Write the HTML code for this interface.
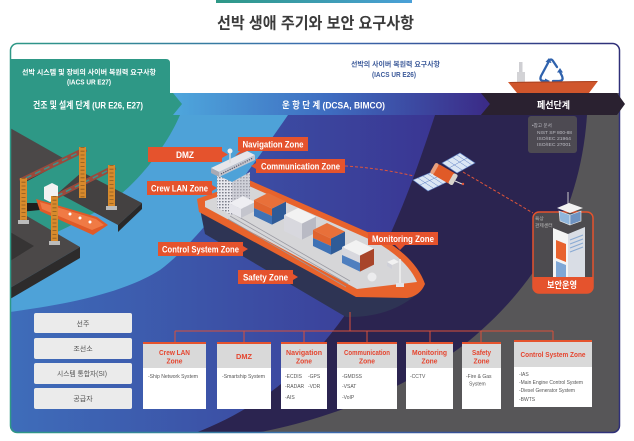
<!DOCTYPE html>
<html><head><meta charset="utf-8"><style>
html,body{margin:0;padding:0;background:#fff;width:634px;height:441px;overflow:hidden}
svg{display:block}
text{font-family:"Liberation Sans","Noto Sans CJK KR",sans-serif}
</style></head><body>
<svg width="634" height="441" viewBox="0 0 634 441" xmlns="http://www.w3.org/2000/svg">
<defs>
 <linearGradient id="topline" x1="216" y1="0" x2="412" y2="0" gradientUnits="userSpaceOnUse"><stop offset="0" stop-color="#2e9886"/><stop offset="1" stop-color="#4aa0d8"/></linearGradient>
 <linearGradient id="border" x1="10" y1="0" x2="620" y2="0" gradientUnits="userSpaceOnUse"><stop offset="0" stop-color="#2e9886"/><stop offset="0.5" stop-color="#3c6db0"/><stop offset="1" stop-color="#2f2f78"/></linearGradient>
 <linearGradient id="mid" x1="10" y1="0" x2="440" y2="0" gradientUnits="userSpaceOnUse"><stop offset="0" stop-color="#3e6dba"/><stop offset="1" stop-color="#3a3592"/></linearGradient>
 <linearGradient id="band" x1="175" y1="0" x2="485" y2="0" gradientUnits="userSpaceOnUse"><stop offset="0" stop-color="#4ea6dc"/><stop offset="0.5" stop-color="#3e6cc0"/><stop offset="1" stop-color="#3b2c88"/></linearGradient>
 <clipPath id="pc"><rect x="10" y="43" width="610" height="390" rx="7"/></clipPath>
 <pattern id="win" width="3" height="3" patternUnits="userSpaceOnUse"><rect width="1.6" height="1.4" fill="#7d7f8c"/></pattern>
</defs>

<!-- title -->
<rect x="216" y="0" width="196" height="3" fill="url(#topline)"/>
<text x="217" y="28.5" font-size="16" font-weight="bold" fill="#3b3b3b" textLength="197" lengthAdjust="spacingAndGlyphs">선박 생애 주기와 보안 요구사항</text>

<g clip-path="url(#pc)">
 <rect x="10" y="43" width="610" height="390" fill="#ffffff"/>
 <rect x="10" y="93" width="610" height="340" fill="#575658"/>
 <path d="M10,93 L590,93 L587,115 C580,220 530,290 470,340 C420,380 340,418 255,433 L10,433 Z" fill="#2b2450"/>
 <path d="M10,93 L440,93 L435,115 C415,175 390,250 345,315 C305,372 255,410 195,433 L10,433 Z" fill="url(#mid)"/>
 <path d="M10,93 L290,93 L288,115 C250,170 200,240 160,270 C120,295 60,305 10,312 Z" fill="#4ea2d8"/>
 <path d="M10,93 L180,93 L180,115 C165,150 130,195 90,215 C60,232 30,245 10,250 Z" fill="#2e9886"/>

 <!-- harbor -->
 <polygon points="10,128 63,158 20,181 20,212 80,247 10,288" fill="#4b4848"/>
 <polygon points="63,158 63,162 20,185 20,181" fill="#2e2c2c"/>
 <polygon points="80,247 80,258 10,299 10,288" fill="#2d2b2b"/>
 <polygon points="10,232 34,246 10,261" fill="#363434"/>
 <polygon points="20,203 38,203 40,210 20,212" fill="#1f1e1e"/>
 <polygon points="82,172 142,203 118,225 58,193" fill="#444141"/>
 <polygon points="142,203 142,209 118,232 118,225" fill="#2a2828"/>
 <!-- crane beams -->
 <line x1="20" y1="181" x2="86" y2="149" stroke="#9a4a3c" stroke-width="5"/>
 <line x1="26" y1="178" x2="80" y2="152" stroke="#3f8f8a" stroke-width="1.6" stroke-dasharray="6,4"/>
 <line x1="51" y1="199" x2="115" y2="167" stroke="#9a4a3c" stroke-width="5"/>
 <line x1="57" y1="196" x2="109" y2="170" stroke="#3f8f8a" stroke-width="1.6" stroke-dasharray="6,4"/>
 <rect x="79" y="147" width="7" height="51" fill="#d88a2c"/>
 <line x1="82.5" y1="147" x2="82.5" y2="198" stroke="#8a5a20" stroke-width="4" stroke-dasharray="0.8,3"/>
 <rect x="108" y="165" width="7" height="43" fill="#d88a2c"/>
 <line x1="111.5" y1="165" x2="111.5" y2="208" stroke="#8a5a20" stroke-width="4" stroke-dasharray="0.8,3"/>
 <rect x="106" y="206" width="11" height="4" fill="#bbb"/>
 <!-- small ship -->
 <polygon points="36,199 97,217 108,225 93,235 40,211" fill="#e05a28"/>
 <polygon points="40,202 96,219 104,225 92,230 42,209" fill="#f07a45"/>
 <polygon points="44,187 52,183 58,186 58,198 50,202 44,199" fill="#f2f2f2"/>
 <circle cx="70" cy="214" r="1.5" fill="#fff"/><circle cx="80" cy="218" r="1.5" fill="#fff"/><circle cx="90" cy="222" r="1.5" fill="#fff"/>
 <rect x="20" y="178" width="7" height="44" fill="#d88a2c"/>
 <line x1="23.5" y1="178" x2="23.5" y2="222" stroke="#8a5a20" stroke-width="4" stroke-dasharray="0.8,3"/>
 <rect x="18" y="220" width="11" height="4" fill="#bbb"/>
 <rect x="51" y="196" width="7" height="47" fill="#d88a2c"/>
 <line x1="54.5" y1="196" x2="54.5" y2="243" stroke="#8a5a20" stroke-width="4" stroke-dasharray="0.8,3"/>
 <rect x="49" y="241" width="11" height="4" fill="#bbb"/>
</g>

<!-- white area content -->
<path d="M10,59 L166,59 Q170,59 170,63 L170,93 L10,93 Z" fill="#2e9886"/>
<text x="22" y="74.5" font-size="7" font-weight="bold" fill="#fff" textLength="134" lengthAdjust="spacingAndGlyphs">선박 시스템 및 장비의 사이버 복원력 요구사항</text>
<text x="67" y="84.5" font-size="7" font-weight="bold" fill="#fff" textLength="44" lengthAdjust="spacingAndGlyphs">(IACS UR E27)</text>
<text x="351" y="66.5" font-size="7" font-weight="bold" fill="#3c5a9a" textLength="89" lengthAdjust="spacingAndGlyphs">선박의 사이버 복원력 요구사항</text>
<text x="372" y="77" font-size="7" font-weight="bold" fill="#3c5a9a" textLength="44" lengthAdjust="spacingAndGlyphs">(IACS UR E26)</text>
<!-- recycle icon -->
<g fill="none" stroke="#2f62ad" stroke-width="2.3" stroke-linecap="round" stroke-linejoin="round">
 <path d="M548,63 L541,76 Q539,81 544,81 L546,81"/>
 <path d="M553,81 L559,81 Q564,81 562,76 L560,72"/>
 <path d="M557,67 L553,61 Q551,58 549,61"/>
</g>
<polygon points="545,78.5 550,81 545,83.5" fill="#2f62ad"/>
<polygon points="557,72.5 560,68 563,72.5" fill="#2f62ad"/>
<polygon points="545.5,62 549,58 551.5,63" fill="#2f62ad"/>
<!-- scrap ship -->
<rect x="519" y="62" width="3.5" height="12" fill="#cfcfd3"/>
<rect x="517" y="72" width="8" height="12" fill="#d3d3d6"/>
<polygon points="508,82 598,81 589,93 517,93" fill="#d0562c"/>
<line x1="510" y1="82.5" x2="597" y2="81.5" stroke="#a94220" stroke-width="1"/>

<!-- border -->
<rect x="10.5" y="43.5" width="609" height="389" rx="7" fill="none" stroke="url(#border)" stroke-width="1.5"/>

<!-- band -->
<path d="M168,93 L481,93 L490,104 L481,115 L168,115 Z" fill="url(#band)"/>
<path d="M481,93 L617,93 L625,104 L617,115 L481,115 L490,104 Z" fill="#2a2130"/>
<path d="M10,93 L173,93 L182,104 L173,115 L10,115 Z" fill="#2e9886"/>
<text x="33" y="108.5" font-size="9.5" font-weight="bold" fill="#fff" textLength="110" lengthAdjust="spacingAndGlyphs">건조 및 설계 단계 (UR E26, E27)</text>
<text x="282" y="108.5" font-size="9.5" font-weight="bold" fill="#fff" textLength="103" lengthAdjust="spacingAndGlyphs">운 항 단 계 (DCSA, BIMCO)</text>
<text x="537" y="108.5" font-size="9.5" font-weight="bold" fill="#fff" textLength="33" lengthAdjust="spacingAndGlyphs">폐선단계</text>

<!-- reference box -->
<rect x="528" y="116" width="49" height="37" rx="3" fill="#4d4a52"/>
<g font-size="4.6" fill="#bdbdc4">
 <text x="532" y="127">•참고 문서</text>
 <text x="537" y="134" textLength="35" lengthAdjust="spacingAndGlyphs">NIST SP 800-88</text>
 <text x="537" y="140" textLength="34" lengthAdjust="spacingAndGlyphs">ISO/IEC 21964</text>
 <text x="537" y="146" textLength="34" lengthAdjust="spacingAndGlyphs">ISO/IEC 27001</text>
</g>

<!-- dashed links -->
<path d="M345,166 Q380,168 414,176" stroke="#e0553a" stroke-width="1" stroke-dasharray="3,2" fill="none"/>
<path d="M463,172 L533,213" stroke="#e0553a" stroke-width="1" stroke-dasharray="3,2" fill="none"/>

<!-- satellite -->
<polygon points="413,180 432,172 447,182 428,191" fill="#dbe6f4" stroke="#5b7dc4" stroke-width="0.6"/>
<path d="M418,178 L433,188 M423,176 L438,186 M428,174 L443,184 M420,185 L439,176" stroke="#5b7dc4" stroke-width="0.5"/>
<polygon points="442,163 460,153 475,163 457,173" fill="#dbe6f4" stroke="#5b7dc4" stroke-width="0.6"/>
<path d="M447,160 L462,170 M452,157 L467,167 M457,155 L472,165 M449,168 L467,158" stroke="#5b7dc4" stroke-width="0.5"/>
<g transform="rotate(30 444 174)">
 <rect x="433" y="168" width="22" height="12" rx="3" fill="#e05a28"/>
 <rect x="452" y="168" width="5" height="12" rx="2" fill="#d8d4cc"/>
 <rect x="431" y="168" width="4" height="12" rx="2" fill="#e8a080"/>
</g>
<line x1="455" y1="181" x2="462" y2="184" stroke="#ddd" stroke-width="1"/>
<circle cx="463" cy="184" r="1.2" fill="#e0553a"/>

<!-- tower card -->
<rect x="533" y="212" width="60" height="81" rx="6" fill="#4d4b4f" stroke="#e5532d" stroke-width="1.5"/>
<path d="M533,277 H593 V287 Q593,293 587,293 H539 Q533,293 533,287 Z" fill="#e5532d"/>
<text x="562" y="288" text-anchor="middle" font-size="9" font-weight="bold" fill="#fff" textLength="30" lengthAdjust="spacingAndGlyphs">보안운영</text>
<text x="535" y="220" font-size="4.8" fill="#bbb">육상</text>
<text x="535" y="227" font-size="4.8" fill="#bbb">관제센터</text>
<line x1="568" y1="192" x2="568" y2="207" stroke="#ccc" stroke-width="1"/>
<polygon points="557,208 569,203 583,208 570,213" fill="#f2f2f2"/>
<polygon points="559,211 570,215 570,225 560,221" fill="#8fb6dd" stroke="#eee" stroke-width="0.6"/>
<polygon points="570,215 581,211 581,221 570,225" fill="#6e93c2" stroke="#eee" stroke-width="0.6"/>
<polygon points="553,228 568,234 568,277 553,277" fill="#f4f4f4"/>
<polygon points="568,234 585,227 585,277 568,277" fill="#d9dde5"/>
<path d="M570,240 L583,235 M570,244 L583,239 M570,248 L583,243 M570,252 L583,247" stroke="#8aaad3" stroke-width="1.2"/>
<polygon points="556,240 566,244 566,262 556,258" fill="#e8622e"/>
<polygon points="556,261 566,265 566,277 556,277" fill="#7fa7d6"/>

<!-- main ship -->
<path d="M199,204 L205,234 L346,317 Q388,318 416,295 L422,284 L357,292 Z" fill="#2e3454"/>
<path d="M197,199 L249,180 L381,238 Q416,258 425,284 Q420,296 407,298 L356,297 L199,212 Z" fill="#e8632c"/>
<path d="M205,201 L249,186 L378,243 Q408,261 417,282 L357,289 L205,207 Z" fill="#d6d6d8"/>
<path d="M232,213 L350,281 M230,216 L348,284 M228,219 L346,287" stroke="#9a9aa2" stroke-width="0.8"/>
<!-- superstructure -->
<polygon points="217,175 232,182 232,215 217,208" fill="#e8e8ee"/>
<polygon points="217,175 232,182 232,215 217,208" fill="url(#win)"/>
<polygon points="232,182 250,172 250,205 232,215" fill="#cfd0d8"/>
<polygon points="232,182 250,172 250,205 232,215" fill="url(#win)" opacity="0.6"/>
<polygon points="229,203 241,209 241,218 229,212" fill="#e4e4ea"/>
<polygon points="241,209 255,202 255,211 241,218" fill="#c4c5cd"/>
<polygon points="229,203 243,196 255,202 241,209" fill="#eeeef2"/>
<polygon points="211,168 247,151 255,155 219,172" fill="#e6e6ea"/>
<polygon points="211,168 219,172 219,177 211,173" fill="#a9aab4"/>
<polygon points="219,172 255,155 255,160 219,177" fill="#c4c5cd"/>
<path d="M221,174 L253,158" stroke="#55576a" stroke-width="1.2" stroke-dasharray="1.2,1.2"/>
<line x1="230" y1="150" x2="230" y2="163" stroke="#ddd" stroke-width="1.5"/>
<circle cx="230" cy="151" r="2.5" fill="#eee"/>
<!-- containers -->
<polygon points="254,200 272,208.6 286,201.6 268,193" fill="#e8703a"/>
<polygon points="254,200 272,208.6 272,216 254,208" fill="#e0642f"/>
<polygon points="254,208 272,216 272,224.6 254,216" fill="#3f72b5"/>
<polygon points="272,208.6 286,201.6 286,217.6 272,224.6" fill="#2f5b97"/>
<polygon points="284,215 302,223.6 316,216.6 298,208" fill="#f2f2f2"/>
<polygon points="284,215 302,223.6 302,239.6 284,231" fill="#d8d8de"/>
<polygon points="302,223.6 316,216.6 316,232.6 302,239.6" fill="#b9bac4"/>
<polygon points="313,230 331,238.6 345,231.6 327,223" fill="#e8703a"/>
<polygon points="313,230 331,238.6 331,246 313,238" fill="#e0642f"/>
<polygon points="313,238 331,246 331,254.6 313,246" fill="#3f72b5"/>
<polygon points="331,238.6 345,231.6 345,247.6 331,254.6" fill="#2f5b97"/>
<polygon points="342,247 360,255.6 374,248.6 356,240" fill="#f2f2f2"/>
<polygon points="342,247 360,255.6 360,263 342,255" fill="#d8d8de"/>
<polygon points="342,255 360,263 360,271.6 342,263" fill="#4f7fbf"/>
<polygon points="360,255.6 374,248.6 374,264.6 360,271.6" fill="#a8452a"/>
<!-- bow items -->
<circle cx="372" cy="277" r="4.5" fill="#ececee"/>
<polygon points="387,262 394,259 399,262 392,265" fill="#f2f2f2"/>
<polygon points="387,262 392,265 392,269 387,266" fill="#cfd0d8"/>
<line x1="400" y1="259" x2="400" y2="285" stroke="#f0f0f0" stroke-width="1.5"/>
<rect x="396" y="283" width="8" height="4" fill="#e4e4e8"/>

<!-- ship labels -->
<g fill="#e5532d">
 <rect x="148" y="147" width="74" height="15"/><polygon points="222,151 228,154.5 222,158"/>
 <rect x="238" y="137" width="70" height="14"/><polygon points="240,151 235,156 247,151"/>
 <rect x="256" y="159" width="89" height="14"/><polygon points="256,163 251,166 256,169"/>
 <rect x="147" y="181" width="65" height="14"/><polygon points="212,185 217,188 212,191"/>
 <rect x="158" y="242" width="85" height="14"/><polygon points="243,246 248,249 243,252"/>
 <rect x="238" y="270" width="55" height="14"/><polygon points="293,274 298,277 293,280"/>
 <rect x="368" y="232" width="70" height="13"/><polygon points="395,245 400,250 405,245"/>
</g>
<g font-size="9.5" font-weight="bold" fill="#fff" text-anchor="middle">
 <text x="185" y="158" textLength="18" lengthAdjust="spacingAndGlyphs">DMZ</text>
 <text x="273" y="147.5" textLength="61" lengthAdjust="spacingAndGlyphs">Navigation Zone</text>
 <text x="300.5" y="169.5" textLength="79" lengthAdjust="spacingAndGlyphs">Communication Zone</text>
 <text x="179.5" y="191.5" textLength="57" lengthAdjust="spacingAndGlyphs">Crew LAN Zone</text>
 <text x="200.5" y="252.5" textLength="77" lengthAdjust="spacingAndGlyphs">Control System Zone</text>
 <text x="265.5" y="280.5" textLength="45" lengthAdjust="spacingAndGlyphs">Safety Zone</text>
 <text x="403" y="242" textLength="62" lengthAdjust="spacingAndGlyphs">Monitoring Zone</text>
</g>

<!-- stakeholder boxes -->
<g fill="#ebebeb">
 <rect x="34" y="313" width="98" height="20" rx="2"/>
 <rect x="34" y="338" width="98" height="21" rx="2"/>
 <rect x="34" y="363" width="98" height="21" rx="2"/>
 <rect x="34" y="388" width="98" height="21" rx="2"/>
</g>
<g font-size="7" fill="#555" text-anchor="middle">
 <text x="83" y="326">선주</text>
 <text x="83" y="351">조선소</text>
 <text x="82" y="376" textLength="50" lengthAdjust="spacingAndGlyphs">시스템 통합자(SI)</text>
 <text x="83" y="401">공급자</text>
</g>

<!-- connectors -->
<g stroke="#d9503a" stroke-width="1" fill="none">
 <path d="M350,312 V331 M175,331 H553 M175,331 V343 M244,331 V343 M304,331 V343 M367,331 V343 M430,331 V343 M481,331 V343 M553,331 V342"/>
</g>

<!-- zone boxes -->
<g>
 <rect x="143" y="343" width="63" height="66" fill="#fff"/><rect x="143" y="343" width="63" height="25" fill="#d9d9d9"/><rect x="143" y="342" width="63" height="2" fill="#e5532d"/>
 <rect x="217" y="343" width="54" height="66" fill="#fff"/><rect x="217" y="343" width="54" height="25" fill="#d9d9d9"/><rect x="217" y="342" width="54" height="2" fill="#e5532d"/>
 <rect x="281" y="343" width="46" height="66" fill="#fff"/><rect x="281" y="343" width="46" height="25" fill="#d9d9d9"/><rect x="281" y="342" width="46" height="2" fill="#e5532d"/>
 <rect x="337" y="343" width="60" height="66" fill="#fff"/><rect x="337" y="343" width="60" height="25" fill="#d9d9d9"/><rect x="337" y="342" width="60" height="2" fill="#e5532d"/>
 <rect x="406" y="343" width="47" height="66" fill="#fff"/><rect x="406" y="343" width="47" height="25" fill="#d9d9d9"/><rect x="406" y="342" width="47" height="2" fill="#e5532d"/>
 <rect x="462" y="343" width="39" height="66" fill="#fff"/><rect x="462" y="343" width="39" height="25" fill="#d9d9d9"/><rect x="462" y="342" width="39" height="2" fill="#e5532d"/>
 <rect x="514" y="341" width="78" height="66" fill="#fff"/><rect x="514" y="341" width="78" height="26" fill="#d9d9d9"/><rect x="514" y="340" width="78" height="2" fill="#e5532d"/>
</g>
<g font-size="7.5" font-weight="bold" fill="#e5452f" text-anchor="middle">
 <text x="174.5" y="355" textLength="31" lengthAdjust="spacingAndGlyphs">Crew LAN</text>
 <text x="174.5" y="363.5" textLength="16" lengthAdjust="spacingAndGlyphs">Zone</text>
 <text x="244" y="359" textLength="16" lengthAdjust="spacingAndGlyphs">DMZ</text>
 <text x="304" y="355" textLength="36" lengthAdjust="spacingAndGlyphs">Navigation</text>
 <text x="304" y="363.5" textLength="16" lengthAdjust="spacingAndGlyphs">Zone</text>
 <text x="367" y="355" textLength="46" lengthAdjust="spacingAndGlyphs">Communication</text>
 <text x="367" y="363.5" textLength="16" lengthAdjust="spacingAndGlyphs">Zone</text>
 <text x="429.5" y="355" textLength="35" lengthAdjust="spacingAndGlyphs">Monitoring</text>
 <text x="429.5" y="363.5" textLength="16" lengthAdjust="spacingAndGlyphs">Zone</text>
 <text x="481.5" y="355" textLength="19" lengthAdjust="spacingAndGlyphs">Safety</text>
 <text x="481.5" y="363.5" textLength="16" lengthAdjust="spacingAndGlyphs">Zone</text>
 <text x="553" y="357" textLength="65" lengthAdjust="spacingAndGlyphs">Control System Zone</text>
</g>
<g font-size="5" fill="#555">
 <text x="148" y="378" textLength="50" lengthAdjust="spacingAndGlyphs">-Ship Network System</text>
 <text x="222" y="378" textLength="43" lengthAdjust="spacingAndGlyphs">-Smartship System</text>
 <text x="285" y="378">-ECDIS</text><text x="308" y="378">-GPS</text>
 <text x="285" y="388">-RADAR</text><text x="308" y="388">-VDR</text>
 <text x="285" y="399">-AIS</text>
 <text x="342" y="378">-GMDSS</text>
 <text x="342" y="388">-VSAT</text>
 <text x="342" y="399">-VoIP</text>
 <text x="410" y="378">-CCTV</text>
 <text x="466" y="378">-Fire &amp; Gas</text>
 <text x="469" y="385.5">System</text>
 <text x="519" y="376">-IAS</text>
 <text x="519" y="384" textLength="64" lengthAdjust="spacingAndGlyphs">-Main Engine Control System</text>
 <text x="519" y="392" textLength="56" lengthAdjust="spacingAndGlyphs">-Diesel Generator System</text>
 <text x="519" y="401">-BWTS</text>
</g>
</svg>
</body></html>
